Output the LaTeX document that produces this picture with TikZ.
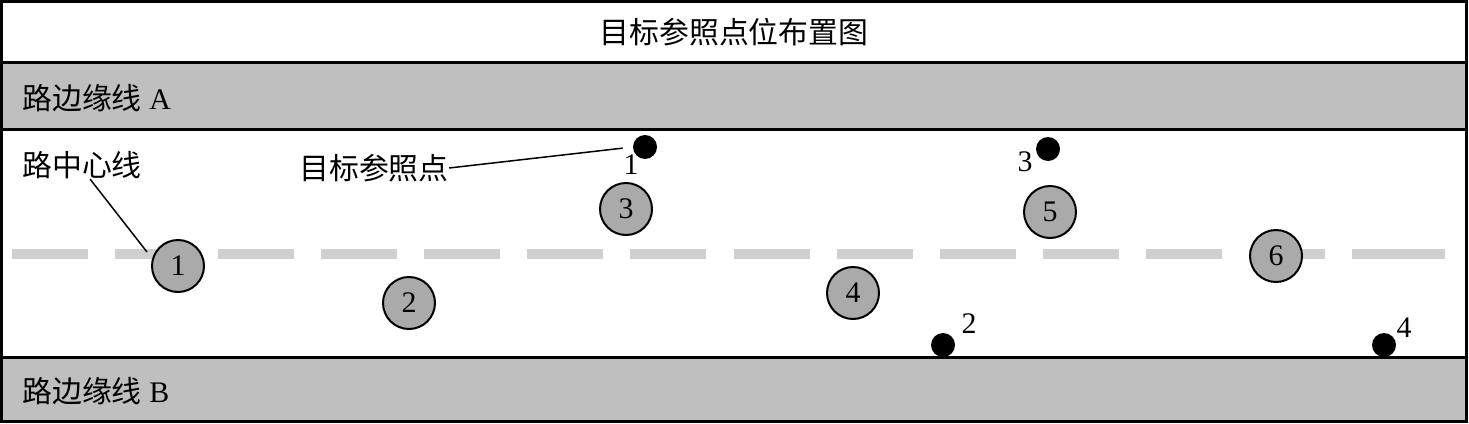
\documentclass[tikz,border=0pt]{standalone}
\usepackage{fontspec}
\setmainfont{Liberation Serif}
\newfontfamily\cjk{Noto Sans CJK SC}
\definecolor{bandgray}{RGB}{191, 191, 191}
\definecolor{dashgray}{RGB}{208, 208, 208}
\definecolor{spotgray}{RGB}{170, 170, 170}

\begin{document}
\begin{tikzpicture}[x=0.02cm, y=-0.02cm,
		txt/.style={font=\fontsize{17}{20}\selectfont, inner sep=0pt},
		spot/.style={circle, draw=black, line width=0.04cm, fill=spotgray, minimum size=1.04cm, inner sep=0pt, font=\fontsize{17}{20}\selectfont},
		refdot/.style={circle, fill=black, minimum size=0.48cm, inner sep=0pt},
		edgeline/.style={line width=0.06cm},
		lead/.style={line width=0.03cm}]
	\useasboundingbox (0,0) rectangle (1469,423);
	% road edges
	\fill[bandgray] (1.5,62) rectangle (1466.5,129);
	\fill[bandgray] (1.5,357) rectangle (1466.5,421.5);
	\draw[edgeline] (1.5,62) -- (1466.5,62);
	\draw[edgeline] (1.5,129) -- (1466.5,129);
	\draw[edgeline] (1.5,357) -- (1466.5,357);
	\draw[edgeline] (1.5,1.5) rectangle (1466.5,421.5);
	% centre line
	\foreach \i in {0,...,12} {
		\fill[dashgray] (12+103.08*\i,249) rectangle ++(76,10);
	}
	\fill[dashgray] (1352,249) rectangle (1445,259);
	% texts
	\node[txt] (title) at (734,32) {{\cjk 目标参照点位布置图}};
	\node[txt, anchor=west] (edgeA) at (22,98) {{\cjk 路边缘线} A};
	\node[txt, anchor=west] (edgeB) at (22,391) {{\cjk 路边缘线} B};
	\node[txt, anchor=west] (lblmid) at (22,165) {{\cjk 路中心线}};
	\node[txt] (lbltgt) at (374,168) {{\cjk 目标参照点}};
	% positions
	\foreach \n/\x/\y in {1/178/266, 2/409/303, 3/626/209, 4/853/293, 5/1050/212, 6/1276/256} {
		\node[spot] (c\n) at (\x,\y) {\n};
	}
	% reference points
	\foreach \n/\x/\y in {1/645/147, 2/943/345, 3/1048/149, 4/1384/345} {
		\node[refdot] (d\n) at (\x,\y) {};
	}
	\node[txt] (n1) at (631,165) {1};
	\node[txt] (n2) at (969,324) {2};
	\node[txt] (n3) at (1025,162) {3};
	\node[txt] (n4) at (1404,328) {4};
	% leaders
	\coordinate (midend) at (147,252);
	\draw[lead] ([xshift=0.16cm]lblmid.south) -- (midend);
	\draw[lead, shorten >=0.2cm] (lbltgt.east) -- (d1.west);
\end{tikzpicture}
\end{document}
